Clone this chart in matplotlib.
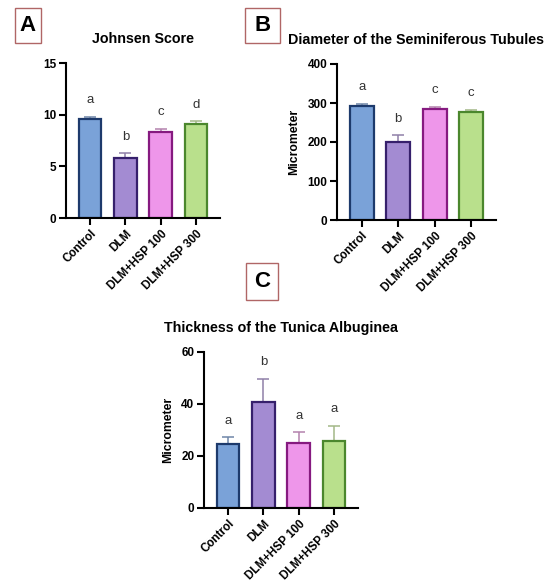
import numpy as np
import matplotlib
matplotlib.use('Agg')
from matplotlib import pyplot as plt
from matplotlib.patches import Rectangle

plt.rcParams['font.family'] = ['Liberation Sans', 'DejaVu Sans']

groups = ['Control', 'DLM', 'DLM+HSP 100', 'DLM+HSP 300']

johnsen_mean = [9.6, 5.8, 8.3, 9.1]
johnsen_err = [0.2, 0.45, 0.35, 0.3]
johnsen_letters = ['a', 'b', 'c', 'd']

diameter_mean = [293, 201, 285, 276]
diameter_err = [5, 16, 6, 7]
diameter_letters = ['a', 'b', 'c', 'c']

thickness_mean = [24.6, 40.8, 25.0, 25.6]
thickness_err = [2.6, 9.0, 4.2, 6.0]
thickness_letters = ['a', 'b', 'a', 'a']

fill_cols = ['#7aa2d8', '#a38bd2', '#ee96ea', '#b9e08c']
edge_cols = ['#1d3a6c', '#36206c', '#861a80', '#4b872d']
err_cols = ['#6f86a8', '#8f80a8', '#b482ae', '#a3b887']

W, H = 550, 587
fig = plt.figure(figsize=(W / 100, H / 100), dpi=100)


def px_axes(x0, y0, x1, y1):
    return fig.add_axes([x0 / W, 1 - y1 / H, (x1 - x0) / W, (y1 - y0) / H])


def panel(ax, means, errs, letters, ymax, step, title, ylabel=None):
    x = np.arange(len(groups))
    ax.bar(x, means, width=0.65, color=fill_cols, edgecolor=edge_cols,
           linewidth=1.6, zorder=2)
    for i in range(len(x)):
        ax.errorbar(x[i], means[i], yerr=[[0], [errs[i]]], fmt='none',
                    ecolor=err_cols[i], elinewidth=1.1, capsize=4.3,
                    capthick=1.1, zorder=1)
        ax.text(x[i], means[i] + errs[i] + 0.105 * ymax, letters[i],
                ha='center', va='center', fontsize=9.5, color='#333333')
    ax.set_xlim(-0.68, 3.68)
    ax.set_ylim(0, ymax)
    ax.set_yticks(np.arange(0, ymax + 1e-9, step))
    ax.set_xticks(x)
    ax.set_xticklabels(groups, rotation=45, ha='right', rotation_mode='anchor',
                       fontsize=8.4, fontweight='bold')
    for lab in ax.get_yticklabels():
        lab.set_fontweight('bold')
        lab.set_fontsize(8.5)
    for s in ['top', 'right']:
        ax.spines[s].set_visible(False)
    for s in ['left', 'bottom']:
        ax.spines[s].set_linewidth(1.5)
    ax.tick_params(axis='both', direction='out', length=5, width=1.5, pad=2)
    ax.set_title(title, fontsize=10.3, fontweight='bold', pad=14.5)
    if ylabel:
        ax.set_ylabel(ylabel, fontsize=8.8, fontweight='bold', labelpad=5)


axA = px_axes(66, 63, 220, 218)
panel(axA, johnsen_mean, johnsen_err, johnsen_letters, 15, 5, 'Johnsen Score')

axB = px_axes(337, 64, 496, 220)
panel(axB, diameter_mean, diameter_err, diameter_letters, 400, 100,
      'Diameter of the Seminiferous Tubules', 'Micrometer')

axC = px_axes(204, 352, 358, 508)
panel(axC, thickness_mean, thickness_err, thickness_letters, 60, 20,
      'Thickness of the Tunica Albuginea', 'Micrometer')

# panel letters in boxes
for lab, (x0, y0, x1, y1) in zip(['A', 'B', 'C'],
                                 [(15, 8, 41, 43), (245, 8, 280, 43),
                                  (246, 263, 278, 300)]):
    fig.patches.append(Rectangle((x0 / W, 1 - y1 / H), (x1 - x0) / W,
                                 (y1 - y0) / H, transform=fig.transFigure,
                                 fill=False, edgecolor='#b06666', linewidth=1))
    fig.text((x0 + x1) / 2 / W, 1 - (y0 + y1) / 2 / H, lab, ha='center',
             va='center', fontsize=16, fontweight='bold')

fig.savefig('out.png', dpi=100)
